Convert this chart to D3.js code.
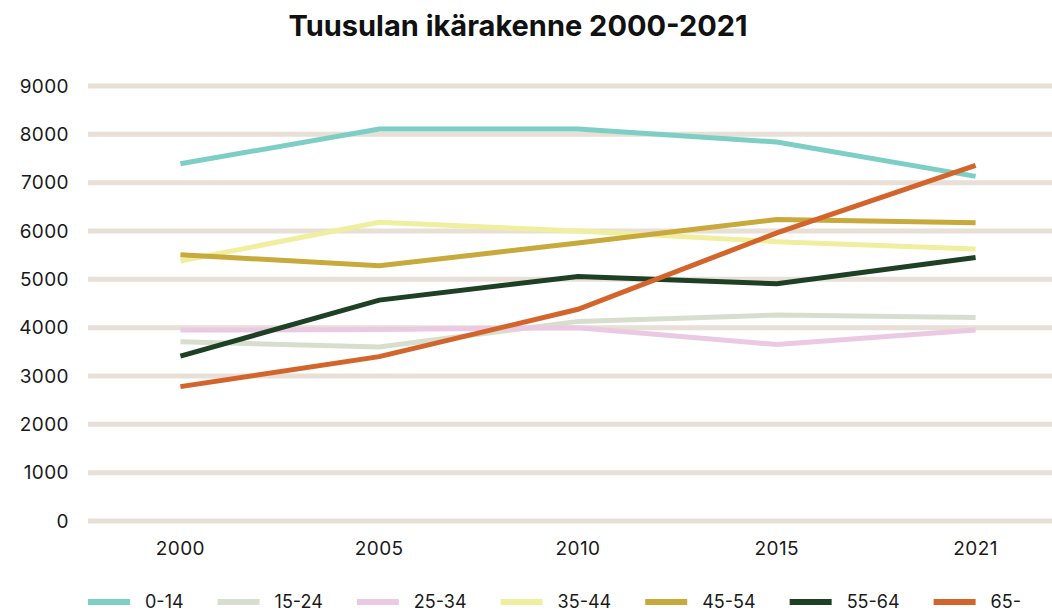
<!DOCTYPE html>
<html>
<head>
<meta charset="utf-8">
<script src="https://cdn.jsdelivr.net/npm/d3@7"></script>
<style>
  body { margin: 0; background: #fff; }
  svg { display: block; font-family: Inter, "Noto Sans", sans-serif; }
</style>
</head>
<body>
<div id="chart"></div>
<script>
// Tuusulan ikärakenne 2000-2021
const years = ['2000', '2005', '2010', '2015', '2021'];
const groups = ['0-14', '15-24', '25-34', '35-44', '45-54', '55-64', '65-'];
const colors = ['#7dcfc6', '#d8dece', '#ecc9e3', '#f0ef9f', '#c8a93c', '#1e4025', '#d3652c'];
const yTicks = [0, 1000, 2000, 3000, 4000, 5000, 6000, 7000, 8000, 9000];

const v0_14 = [7390, 8110, 8110, 7840, 7130];
const v15_24 = [3710, 3600, 4130, 4260, 4210];
const v25_34 = [3950, 3960, 4000, 3650, 3950];
const v35_44 = [5380, 6180, 6000, 5780, 5630];
const v45_54 = [5510, 5280, 5750, 6240, 6170];
const v55_64 = [3410, 4570, 5060, 4910, 5450];
const v65 = [2780, 3400, 4380, 5960, 7360];
const seriesValues = [v0_14, v15_24, v25_34, v35_44, v45_54, v55_64, v65];

const width = 1052, height = 615;
const svg = d3.select('#chart').append('svg')
  .attr('width', width).attr('height', height);

const x = d3.scaleBand().domain(years).range([81, 1075]);
const y = d3.scaleLinear().domain([0, 9000]).range([521, 86]);

svg.append('text')
  .attr('x', 518).attr('y', 36)
  .attr('text-anchor', 'middle')
  .attr('font-size', 29).attr('font-weight', 700)
  .attr('fill', '#111')
  .text('Tuusulan ikärakenne 2000-2021');

// grid
svg.append('g')
  .selectAll('line')
  .data(yTicks)
  .join('line')
  .attr('x1', 88).attr('x2', width)
  .attr('y1', d => y(d)).attr('y2', d => y(d))
  .attr('stroke', '#e8dfd7').attr('stroke-width', 5);

// y axis labels
const yAxis = svg.append('g')
  .attr('transform', 'translate(69,0)')
  .call(d3.axisLeft(y).tickValues(yTicks).tickFormat(d3.format('d')).tickSize(0).tickPadding(0));
yAxis.select('.domain').remove();
yAxis.selectAll('text').attr('font-size', 19).attr('fill', '#1a1a1a')
  .attr('letter-spacing', 0.4)
  .attr('font-family', 'Inter, "Noto Sans", sans-serif');

// x axis labels
const xAxis = svg.append('g')
  .attr('transform', 'translate(0,541)')
  .call(d3.axisBottom(x).tickSize(0).tickPadding(0));
xAxis.select('.domain').remove();
xAxis.selectAll('text').attr('font-size', 19).attr('fill', '#1a1a1a')
  .attr('letter-spacing', 0.4)
  .attr('font-family', 'Inter, "Noto Sans", sans-serif');

// lines
const line = d3.line()
  .x((d, i) => x(years[i]) + x.bandwidth() / 2)
  .y(d => y(d));

svg.append('g')
  .selectAll('path')
  .data(seriesValues)
  .join('path')
  .attr('d', d => line(d))
  .attr('fill', 'none')
  .attr('stroke', (d, i) => colors[i])
  .attr('stroke-width', 5);

// legend, items laid out by text width
const legend = svg.append('g').attr('transform', 'translate(0,602)');
let lx = 88;
groups.forEach((g, i) => {
  const item = legend.append('g').attr('transform', `translate(${lx},0)`);
  item.append('line')
    .attr('x1', 0).attr('x2', 42)
    .attr('stroke', colors[i]).attr('stroke-width', 6);
  const t = item.append('text')
    .attr('x', 57).attr('dy', '0.35em')
    .attr('font-size', 18).attr('fill', '#1a1a1a')
    .text(g);
  lx += 57 + t.node().getComputedTextLength() + 34;
});
</script>
</body>
</html>
